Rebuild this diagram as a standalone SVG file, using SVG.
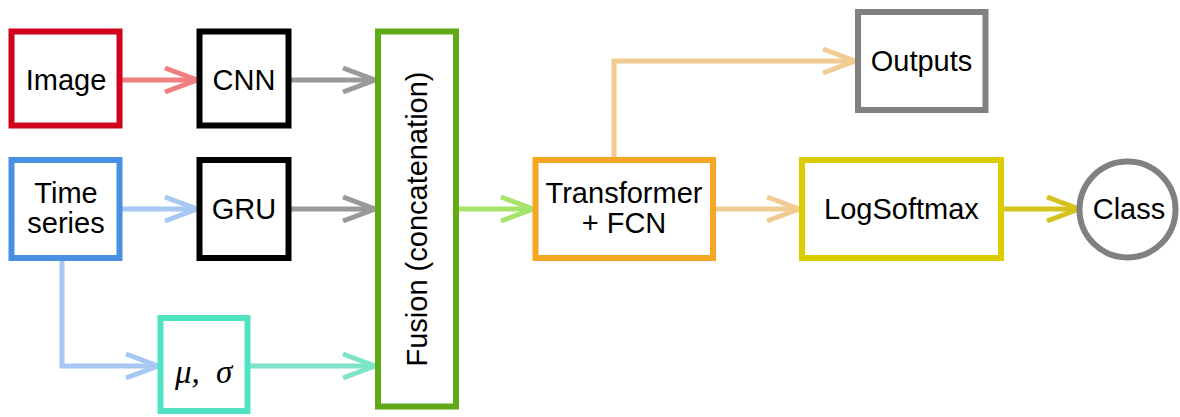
<svg xmlns="http://www.w3.org/2000/svg" width="1180" height="417" viewBox="0 0 1180 417">
<style>
.box{fill:#ffffff;stroke-width:6}
.lbl{font-family:"Liberation Sans",Arial,sans-serif;font-size:29px;fill:#000;text-anchor:middle}
.math{font-family:"Liberation Serif","Times New Roman",serif;font-style:italic;font-size:33px;fill:#000}
.c{fill:none;stroke-width:5}
</style>
<defs>
<marker id="aRed" markerUnits="userSpaceOnUse" markerWidth="40" markerHeight="40" refX="0" refY="0" orient="auto" overflow="visible" viewBox="-40 -20 40 40"><path d="M-32,-12 L0,0 L-32,12" fill="none" stroke="#f07f7f" stroke-width="5"/></marker>
<marker id="aGray" markerUnits="userSpaceOnUse" markerWidth="40" markerHeight="40" refX="0" refY="0" orient="auto" overflow="visible" viewBox="-40 -20 40 40"><path d="M-32,-12 L0,0 L-32,12" fill="none" stroke="#999999" stroke-width="5"/></marker>
<marker id="aBlue" markerUnits="userSpaceOnUse" markerWidth="40" markerHeight="40" refX="0" refY="0" orient="auto" overflow="visible" viewBox="-40 -20 40 40"><path d="M-32,-12 L0,0 L-32,12" fill="none" stroke="#a6c8f2" stroke-width="5"/></marker>
<marker id="aTeal" markerUnits="userSpaceOnUse" markerWidth="40" markerHeight="40" refX="0" refY="0" orient="auto" overflow="visible" viewBox="-40 -20 40 40"><path d="M-32,-12 L0,0 L-32,12" fill="none" stroke="#7ee3c8" stroke-width="5"/></marker>
<marker id="aGreen" markerUnits="userSpaceOnUse" markerWidth="40" markerHeight="40" refX="0" refY="0" orient="auto" overflow="visible" viewBox="-40 -20 40 40"><path d="M-32,-12 L0,0 L-32,12" fill="none" stroke="#a6e36a" stroke-width="5"/></marker>
<marker id="aTan" markerUnits="userSpaceOnUse" markerWidth="40" markerHeight="40" refX="0" refY="0" orient="auto" overflow="visible" viewBox="-40 -20 40 40"><path d="M-32,-12 L0,0 L-32,12" fill="none" stroke="#f0cc92" stroke-width="5"/></marker>
<marker id="aYel" markerUnits="userSpaceOnUse" markerWidth="40" markerHeight="40" refX="0" refY="0" orient="auto" overflow="visible" viewBox="-40 -20 40 40"><path d="M-32,-12 L0,0 L-32,12" fill="none" stroke="#d4c31c" stroke-width="5"/></marker>
</defs>
<rect width="1180" height="417" fill="#ffffff"/>
<g id="connectors">
<path class="c" d="M122,80 H197" stroke="#f07f7f" marker-end="url(#aRed)"/>
<path class="c" d="M291,80 H375" stroke="#999999" marker-end="url(#aGray)"/>
<path class="c" d="M122,209 H197" stroke="#a6c8f2" marker-end="url(#aBlue)"/>
<path class="c" d="M291,209 H375" stroke="#999999" marker-end="url(#aGray)"/>
<path class="c" d="M62,261 V366 H158" stroke="#a6c8f2" marker-end="url(#aBlue)"/>
<path class="c" d="M250,366 H375" stroke="#7ee3c8" marker-end="url(#aTeal)"/>
<path class="c" d="M459,209 H533" stroke="#a6e36a" marker-end="url(#aGreen)"/>
<path class="c" d="M614,158 V61 H855" stroke="#f0cc92" marker-end="url(#aTan)"/>
<path class="c" d="M716,209 H799" stroke="#f0cc92" marker-end="url(#aTan)"/>
<path class="c" d="M1004,209 H1079" stroke="#d4c31c" marker-end="url(#aYel)"/>
</g>
<g id="image">
<rect class="box" x="11.5" y="31.5" width="108" height="94" stroke="#d0021b"/>
<text class="lbl" x="66" y="90">Image</text>
</g>
<g id="cnn">
<rect class="box" x="199.5" y="31.5" width="89" height="94" stroke="#000000"/>
<text class="lbl" x="244" y="90">CNN</text>
</g>
<g id="timeseries">
<rect class="box" x="11.5" y="160" width="108" height="98" stroke="#4a90e2"/>
<text class="lbl" x="66" y="203">Time</text>
<text class="lbl" x="66" y="233">series</text>
</g>
<g id="gru">
<rect class="box" x="199.5" y="160" width="89" height="98" stroke="#000000"/>
<text class="lbl" x="244" y="219">GRU</text>
</g>
<g id="stats">
<rect class="box" x="160.5" y="318" width="87" height="93" stroke="#50e3c2"/>
<text class="math" x="175" y="383">μ,<tspan x="216">σ</tspan></text>
</g>
<g id="fusion">
<rect class="box" x="378" y="31.5" width="78" height="375" stroke="#60a917"/>
<text class="lbl" transform="translate(427,219) rotate(-90)" x="0" y="0">Fusion (concatenation)</text>
</g>
<g id="transformer">
<rect class="box" x="535.5" y="160" width="177.5" height="98" stroke="#f5a623"/>
<text class="lbl" x="624" y="203">Transformer</text>
<text class="lbl" x="624" y="233">+ FCN</text>
</g>
<g id="logsoftmax">
<rect class="box" x="802" y="160" width="199" height="98" stroke="#dccd00"/>
<text class="lbl" x="901.5" y="219">LogSoftmax</text>
</g>
<g id="outputs">
<rect class="box" x="858" y="12" width="127.5" height="98" stroke="#808080"/>
<text class="lbl" x="921.5" y="71">Outputs</text>
</g>
<g id="class">
<circle class="box" cx="1127.5" cy="209.5" r="48" stroke="#808080"/>
<text class="lbl" x="1129" y="219">Class</text>
</g>
</svg>
